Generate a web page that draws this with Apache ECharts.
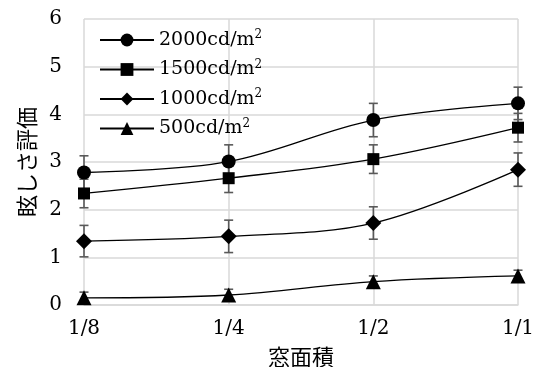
<!DOCTYPE html>
<html><head><meta charset="utf-8">
<script src="https://cdn.jsdelivr.net/npm/echarts@6/dist/echarts.min.js"></script>
<style>html,body{margin:0;padding:0;background:#fff}#c{width:536px;height:367px}</style>
</head><body><div id="c"></div>
<script>
const categories = ['1/8', '1/4', '1/2', '1/1'];
const s2000 = [2.78, 3.01, 3.88, 4.23];
const s1500 = [2.34, 2.66, 3.06, 3.72];
const s1000 = [1.34, 1.44, 1.72, 2.84];
const s500 = [0.15, 0.21, 0.49, 0.61];
const e2000 = [0.35, 0.35, 0.35, 0.34];
const e1500 = [0.3, 0.3, 0.3, 0.3];
const e1000 = [0.33, 0.34, 0.34, 0.35];
const e500 = [0.12, 0.12, 0.12, 0.12];
const names = ['2000cd/m2', '1500cd/m2', '1000cd/m2', '500cd/m2'];
const yTicks = [0, 1, 2, 3, 4, 5, 6];

const serif = '"DejaVu Serif", "Liberation Serif", serif';
const cjk = '"Noto Sans CJK JP", sans-serif';
const chart = echarts.init(document.getElementById('c'));

function errData(vals, errs) {
  return vals.map((v, i) => [i, v - errs[i], v + errs[i]]);
}
function errSeries(vals, errs) {
  return {
    type: 'custom',
    z: 1,
    silent: true,
    renderItem: function (params, api) {
      const x = api.value(0);
      const lo = api.coord([x, api.value(1)]);
      const hi = api.coord([x, api.value(2)]);
      const w = 4.5;
      const st = { stroke: '#595959', lineWidth: 1.6 };
      return {
        type: 'group',
        children: [
          { type: 'line', shape: { x1: lo[0], y1: lo[1], x2: hi[0], y2: hi[1] }, style: st },
          { type: 'line', shape: { x1: lo[0] - w, y1: lo[1], x2: lo[0] + w, y2: lo[1] }, style: st },
          { type: 'line', shape: { x1: hi[0] - w, y1: hi[1], x2: hi[0] + w, y2: hi[1] }, style: st }
        ]
      };
    },
    data: errData(vals, errs)
  };
}
function lineSeries(name, vals, symbol, size) {
  return {
    name: name, type: 'line', data: vals, smooth: 0.35, z: 3,
    symbol: symbol, symbolSize: size,
    itemStyle: { color: '#000' },
    lineStyle: { color: '#000', width: 1.3 }
  };
}

chart.setOption({
  animation: false,
  grid: { left: 84, right: 18, top: 19, bottom: 62, containLabel: false, outerBoundsMode: 'none' },
  legend: {
    left: 94, top: 24, orient: 'vertical', itemGap: 9,
    itemWidth: 54, itemHeight: 16,
    data: names,
    formatter: function (n) { return '{a|' + n.slice(0, -1) + '}{s|2}'; },
    textStyle: {
      color: '#000', padding: [0, 0, 0, 0],
      rich: {
        a: { fontFamily: serif, fontSize: 19, color: '#000', height: 18 },
        s: { fontFamily: serif, fontSize: 12, color: '#000', verticalAlign: 'top', padding: [0, 0, 10, 0] }
      }
    }
  },
  xAxis: {
    type: 'category', data: categories, boundaryGap: false,
    name: '窓面積', nameLocation: 'middle', nameGap: 41,
    nameTextStyle: { fontFamily: cjk, fontSize: 22, color: '#000' },
    axisLine: { lineStyle: { color: '#d9d9d9', width: 1.5 } },
    axisTick: { show: false },
    axisLabel: { fontFamily: serif, fontSize: 20, color: '#000', margin: 14 },
    splitLine: { show: true, lineStyle: { color: '#d9d9d9', width: 1.5 } }
  },
  yAxis: {
    type: 'value', min: yTicks[0], max: yTicks[yTicks.length - 1], interval: 1,
    name: '眩しさ評価', nameLocation: 'middle', nameGap: 46, nameRotate: 90, nameMoveOverlap: false,
    nameTextStyle: { fontFamily: cjk, fontSize: 22, color: '#000' },
    axisLine: { show: false }, axisTick: { show: false },
    axisLabel: { fontFamily: serif, fontSize: 20, color: '#000', margin: 22 },
    splitLine: { lineStyle: { color: '#d9d9d9', width: 1.5 } }
  },
  series: [
    errSeries(s2000, e2000), errSeries(s1500, e1500), errSeries(s1000, e1000), errSeries(s500, e500),
    lineSeries(names[0], s2000, 'circle', 14),
    lineSeries(names[1], s1500, 'rect', 12),
    lineSeries(names[2], s1000, 'diamond', 16),
    lineSeries(names[3], s500, 'triangle', 15)
  ]
});
</script></body></html>
